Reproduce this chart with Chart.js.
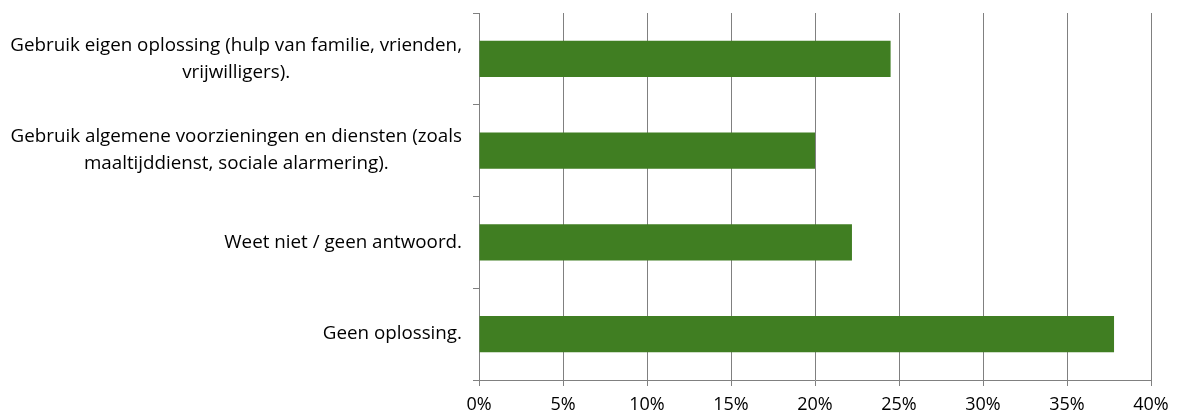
<!DOCTYPE html>
<html>
<head>
    <meta charset="utf-8">
    <title>Oplossing bij hulpvraag</title>
    <script src="https://cdn.jsdelivr.net/npm/chart.js"></script>
    <style>
        body { margin: 0; background: #fff; }
    </style>
</head>
<body>
    <canvas id="chart" width="1180" height="414"></canvas>

    <script>
        // Antwoordcategorieën (elke regel apart) en percentages
        var categories = [
            ["Gebruik eigen oplossing (hulp van familie, vrienden,", "vrijwilligers)."],
            ["Gebruik algemene voorzieningen en diensten (zoals", "maaltijddienst, sociale alarmering)."],
            ["Weet niet / geen antwoord."],
            ["Geen oplossing."]
        ];
        var percentages = [24.5, 20.0, 22.2, 37.8];
        var xTicks = [0, 5, 10, 15, 20, 25, 30, 35, 40];

        var gridColor = "#808080";
        var fontFamily = "'Open Sans'";

        // Labels links: blok rechts uitgelijnd, regels binnen het blok gecentreerd
        var categoryLabels = {
            id: "categoryLabels",
            afterDraw: function (chart) {
                var ctx = chart.ctx;
                var yScale = chart.scales.y;
                var lineHeight = 27;
                var rightX = yScale.right - 17;
                ctx.save();
                ctx.font = "18.8px " + fontFamily;
                ctx.fillStyle = "#000";
                ctx.textAlign = "center";
                ctx.textBaseline = "middle";
                categories.forEach(function (lines, i) {
                    var maxW = Math.max.apply(null, lines.map(function (l) { return ctx.measureText(l).width; }));
                    var cx = rightX - maxW / 2;
                    var cy = yScale.getPixelForValue(i);
                    lines.forEach(function (line, j) {
                        ctx.fillText(line, cx, cy + (j - (lines.length - 1) / 2) * lineHeight);
                    });
                });
                ctx.restore();
            }
        };

        var ctx = document.getElementById('chart').getContext('2d');
        new Chart(ctx, {
            type: 'bar',
            data: {
                labels: categories.map(function (c) { return c.join(" "); }),
                datasets: [{
                    data: percentages,
                    backgroundColor: "#407e22",
                    borderWidth: 0,
                    barPercentage: 0.395,
                    categoryPercentage: 1.0
                }]
            },
            options: {
                indexAxis: 'y',
                responsive: false,
                animation: false,
                layout: {
                    padding: { top: 13, right: 29, left: 0, bottom: 0 }
                },
                plugins: {
                    legend: { display: false },
                    tooltip: { enabled: false }
                },
                scales: {
                    x: {
                        min: 0,
                        max: 40,
                        afterBuildTicks: function (scale) {
                            scale.ticks = xTicks.map(function (v) { return { value: v }; });
                        },
                        afterFit: function (scale) { scale.height = 34; },
                        grid: {
                            color: gridColor,
                            lineWidth: 1,
                            tickLength: 6
                        },
                        border: { color: gridColor },
                        ticks: {
                            padding: 8,
                            color: "#000",
                            font: { family: fontFamily, size: 18 },
                            callback: function (v) { return v + "%"; }
                        }
                    },
                    y: {
                        afterFit: function (scale) { scale.width = 479; },
                        grid: {
                            drawOnChartArea: false,
                            color: gridColor,
                            tickLength: 6
                        },
                        border: { color: gridColor },
                        ticks: { display: false }
                    }
                }
            },
            plugins: [categoryLabels]
        });
    </script>
</body>
</html>
